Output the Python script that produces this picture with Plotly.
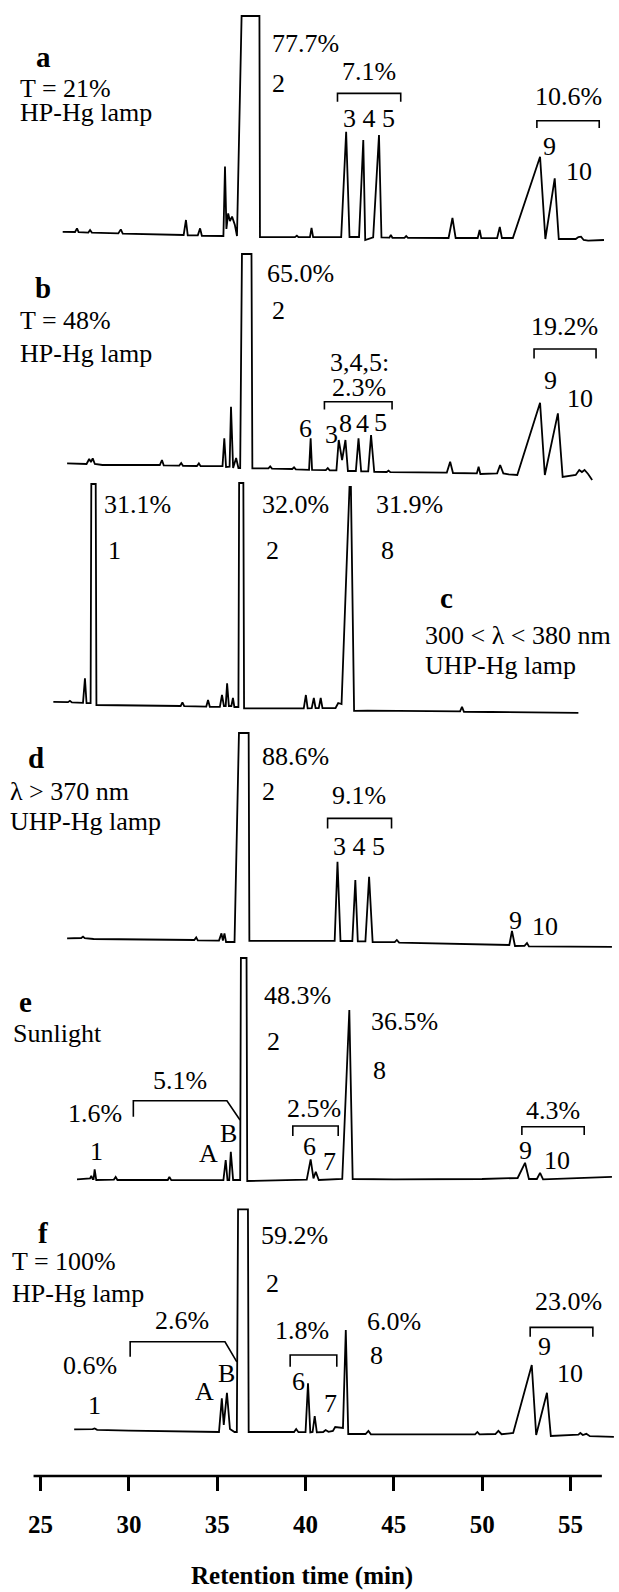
import plotly.graph_objects as go

W, H = 619, 1592
FONT = "'Liberation Serif', 'Times New Roman', Times, serif"

# ---------------- data ----------------
x_ticks = [25, 30, 35, 40, 45, 50, 55]
x_range = [22.70, 57.75]

# panel a : T = 21%, HP-Hg lamp
a_t = [26.25, 26.95, 27.06, 27.15, 27.70, 27.80, 27.90, 29.40, 29.54, 29.65, 33.10, 33.23, 33.33,
       33.90, 34.03, 34.13, 35.35, 35.44, 35.52, 35.62, 35.72, 35.84, 36.00, 36.12,
       36.38, 37.39, 37.42, 38.20, 39.40, 39.51, 39.60, 40.25, 40.34, 40.43,
       42.02, 42.30, 42.49, 43.03, 43.27, 43.38, 43.83, 44.16, 44.30,
       44.75, 44.83, 44.92, 45.60, 45.70, 45.80, 48.10, 48.32, 48.50,
       49.75, 49.86, 49.95, 50.85, 51.00, 51.12, 51.74, 53.28, 53.58, 54.11, 54.34,
       55.30, 55.45, 55.60, 55.75, 56.00, 56.90]
a_i = [6.6, 6.5, 8.3, 6.4, 6.2, 7.5, 6.2, 5.8, 7.8, 5.7, 5.0, 12.5, 4.8,
       4.8, 8.3, 4.6, 4.5, 39.2, 8.0, 15.8, 12.0, 14.2, 10.0, 4.5,
       114.5, 114.5, 3.9, 3.9, 3.9, 4.7, 3.9, 3.9, 8.5, 3.9,
       4.0, 56.6, 4.0, 4.0, 52.5, 2.5, 3.8, 55.0, 3.8,
       3.7, 5.0, 3.6, 3.6, 4.5, 3.6, 3.5, 13.5, 3.5,
       3.5, 7.5, 3.4, 3.5, 9.0, 3.5, 3.5, 44.1, 3.0, 33.3, 3.0,
       3.0, 4.0, 4.2, 2.5, 2.2, 2.5]

# panel b : T = 48%, HP-Hg lamp
b_t = [26.50, 27.60, 27.75, 27.85, 27.95, 28.07, 28.50, 31.75, 31.87, 31.97, 32.85, 32.96, 33.06,
       33.85, 33.96, 34.06, 35.30, 35.40, 35.50, 35.70, 35.78, 35.90, 36.07, 36.20,
       36.30, 36.40, 36.94, 36.99, 37.90, 38.00, 38.10, 39.25, 39.35, 39.45,
       40.20, 40.29, 40.37, 41.15, 41.26, 41.37, 41.75, 41.88, 42.07, 42.26, 42.40,
       42.85, 43.00, 43.15, 43.55, 43.71, 43.89, 44.60, 44.70, 44.80,
       48.00, 48.19, 48.35, 49.70, 49.80, 49.90, 50.85, 51.02, 51.20, 51.50,
       51.99, 53.28, 53.55, 54.29, 54.56, 55.30, 55.50, 55.65, 55.80, 56.00, 56.23]
b_i = [10.8, 10.5, 13.0, 11.5, 13.3, 10.5, 10.0, 10.0, 12.5, 9.8, 9.7, 11.0, 9.6,
       9.5, 10.8, 9.4, 9.5, 23.3, 9.0, 9.2, 39.1, 8.5, 13.5, 8.5,
       8.5, 115.5, 115.5, 8.3, 8.3, 9.3, 8.2, 8.0, 8.8, 7.8,
       7.6, 23.3, 7.6, 7.4, 8.4, 7.3, 7.3, 22.5, 12.5, 22.5, 7.0,
       7.0, 23.3, 6.8, 6.8, 25.0, 6.6, 6.5, 7.2, 6.4,
       6.2, 11.6, 6.0, 5.8, 9.1, 5.5, 5.8, 10.0, 5.8, 5.3,
       5.0, 41.1, 5.0, 35.8, 4.0, 5.0, 7.5, 6.5, 7.5, 5.5, 2.5]

# panel c : 300 < lambda < 380 nm, UHP-Hg lamp
c_t = [25.72, 26.55, 26.66, 26.77, 27.40, 27.51, 27.60, 27.83, 27.87, 28.12, 28.16,
       32.93, 33.03, 33.13, 34.38, 34.48, 34.58, 35.15, 35.27, 35.38, 35.48, 35.56, 35.66,
       35.80, 35.89, 35.97, 36.20, 36.24, 36.48, 36.52, 37.50, 39.90, 40.02, 40.12,
       40.35, 40.47, 40.57, 40.75, 40.86, 40.96, 41.70, 41.85, 42.04, 42.49, 42.57, 42.75,
       43.50, 45.00, 48.75, 48.86, 48.97, 50.50, 55.45]
c_i = [9.1, 8.9, 9.6, 8.8, 8.6, 20.8, 8.4, 8.4, 118.0, 118.0, 7.5,
       7.0, 8.8, 6.9, 6.7, 10.0, 6.6, 6.6, 12.5, 7.0, 7.0, 18.3, 7.0,
       7.0, 11.0, 6.5, 6.5, 118.5, 118.5, 5.8, 5.8, 5.8, 12.5, 5.8,
       5.9, 11.0, 5.9, 5.9, 11.0, 5.9, 6.0, 8.5, 8.0, 116.5, 116.5, 4.6,
       4.7, 4.6, 4.3, 6.6, 4.1, 4.0, 3.6]

# panel d : lambda > 370 nm, UHP-Hg lamp
d_t = [26.50, 27.30, 27.40, 27.50, 28.00, 33.70, 33.81, 33.90, 35.10, 35.24, 35.32, 35.41, 35.50,
       35.98, 36.23, 36.78, 36.82, 41.65, 41.81, 41.98, 42.65, 42.82, 42.96,
       43.39, 43.60, 43.80, 45.05, 45.17, 45.30, 51.54, 51.69, 51.86, 52.40, 52.54, 52.65, 57.35]
d_i = [8.3, 8.5, 9.2, 8.4, 8.0, 7.5, 8.8, 7.3, 7.2, 10.8, 7.2, 10.8, 6.5,
       6.5, 111.0, 111.0, 7.1, 7.1, 46.6, 7.0, 7.0, 37.5, 6.8,
       6.8, 39.1, 6.5, 6.4, 7.5, 6.2, 5.0, 12.0, 4.5, 4.6, 6.0, 4.3, 4.1]

# panel e : Sunlight
e_t = [27.06, 27.80, 27.87, 27.95, 28.00, 28.06, 28.15, 29.15, 29.25, 29.35, 32.20, 32.29, 32.40,
       35.35, 35.48, 35.58, 35.68, 35.77, 35.90, 36.30, 36.34, 36.66, 36.70,
       40.07, 40.29, 40.45, 40.58, 40.75, 42.08, 42.48, 42.67,
       45.00, 50.00, 52.01, 52.43, 52.65, 53.10, 53.28, 53.45, 57.35]
e_i = [5.3, 5.8, 7.0, 5.5, 5.5, 10.3, 5.0, 5.2, 6.5, 5.0, 5.0, 6.5, 4.9,
       5.0, 15.0, 5.0, 5.0, 19.1, 5.0, 5.0, 116.0, 116.0, 4.5,
       5.2, 15.3, 5.8, 9.1, 5.0, 5.5, 90.0, 5.5,
       5.3, 5.5, 6.0, 13.6, 5.5, 5.5, 8.6, 5.3, 6.6]

# panel f : T = 100%, HP-Hg lamp
f_t = [26.90, 27.95, 28.06, 28.20, 30.00, 33.00, 35.10, 35.26, 35.37, 35.55, 35.72, 35.98,
       36.11, 36.18, 36.74, 36.78, 38.00, 39.35, 39.47, 39.60, 40.00, 40.14, 40.27, 40.40, 40.52, 40.64,
       41.00, 41.14, 41.30, 41.55, 41.68, 41.95, 42.12, 42.28, 42.42, 43.40, 43.56, 43.70,
       49.60, 49.73, 49.85, 50.75, 50.92, 51.10, 51.76, 52.81, 53.06, 53.67, 53.89,
       55.45, 55.56, 55.70, 55.90, 56.10, 57.46]
f_i = [7.8, 7.9, 8.3, 7.6, 7.2, 6.8, 6.5, 23.3, 10.0, 26.1, 8.0, 6.5,
       6.5, 117.8, 117.8, 6.5, 6.5, 6.5, 8.0, 6.4, 6.5, 30.8, 6.3, 6.5, 14.5, 6.3,
       6.5, 7.5, 6.6, 7.0, 9.0, 8.5, 8.5, 57.5, 5.5, 5.5, 7.0, 5.3,
       5.3, 6.5, 5.3, 5.5, 7.1, 5.4, 6.0, 40.0, 5.0, 26.1, 4.5,
       5.2, 6.0, 5.0, 5.6, 4.4, 4.1]

series = [(a_t, a_i), (b_t, b_i), (c_t, c_i), (d_t, d_i), (e_t, e_i), (f_t, f_i)]

# ---------------- layout geometry (pixel of zero line, pixel of top) ----------------
panel_px = [(245, 5), (485, 245), (720, 470), (955, 725), (1190, 950), (1445, 1200)]

fig = go.Figure()
for k, (t, i) in enumerate(series):
    fig.add_trace(go.Scatter(x=t, y=i, mode="lines", xaxis="x",
                             yaxis="y" if k == 0 else f"y{k+1}",
                             line=dict(color="black", width=1.8), hoverinfo="skip",
                             showlegend=False, cliponaxis=False))

layout = dict(width=W, height=H, margin=dict(l=0, r=0, t=0, b=0),
              paper_bgcolor="white", plot_bgcolor="rgba(0,0,0,0)", showlegend=False,
              font=dict(family=FONT, color="black", size=26))

AXIS_Y = 1476
layout["xaxis"] = dict(range=x_range, domain=[0, 1], anchor="free", position=(H - AXIS_Y) / H,
                       showgrid=False, zeroline=False, showline=False,
                       tickvals=x_ticks, ticktext=[str(v) for v in x_ticks],
                       ticks="outside", ticklen=14, tickwidth=2.5, tickcolor="black",
                       ticklabelstandoff=12,
                       tickfont=dict(family=FONT, size=25, color="black", weight="bold"))
for k, (y0, ytop) in enumerate(panel_px):
    name = "yaxis" if k == 0 else f"yaxis{k+1}"
    layout[name] = dict(domain=[(H - y0) / H, (H - ytop) / H], range=[0, (y0 - ytop) / 2],
                        visible=False, anchor="x", fixedrange=True)

yrefs = ["y", "y2", "y3", "y4", "y5", "y6"]

# text labels: (panel, t, value, text, xanchor, style)
labels = [
    (0, 25.15, 94, "a", "center", "letter"), (0, 23.70, 78.5, "T = 21%", "left", ""),
    (0, 23.70, 66.5, "HP-Hg lamp", "left", ""), (0, 38.01, 101, "77.7%", "left", ""),
    (0, 38.01, 81, "2", "left", ""), (0, 43.60, 86.6, "7.1%", "center", ""),
    (0, 43.60, 63.3, "3 4 5", "center", ""), (0, 54.89, 74.1, "10.6%", "center", ""),
    (0, 53.84, 49.1, "9", "center", ""), (0, 55.49, 36.6, "10", "center", ""),

    (1, 25.15, 98.3, "b", "center", "letter"), (1, 23.70, 82.5, "T = 48%", "left", ""),
    (1, 23.70, 65.8, "HP-Hg lamp", "left", ""), (1, 37.72, 105.8, "65.0%", "left", ""),
    (1, 38.01, 87.5, "2", "left", ""), (1, 43.04, 61.3, "3,4,5:", "center", ""),
    (1, 43.04, 48.8, "2.3%", "center", ""), (1, 39.98, 28.3, "6", "center", ""),
    (1, 41.47, 25.5, "3", "center", ""), (1, 42.26, 31, "8", "center", ""),
    (1, 43.22, 31, "4", "center", ""), (1, 44.22, 31.1, "5", "center", ""),
    (1, 54.67, 79.1, "19.2%", "center", ""), (1, 53.88, 52.5, "9", "center", ""),
    (1, 55.56, 43.3, "10", "center", ""),

    (2, 28.46, 107.5, "31.1%", "left", ""), (2, 28.73, 85, "1", "left", ""),
    (2, 37.45, 107.5, "32.0%", "left", ""), (2, 37.67, 85, "2", "left", ""),
    (2, 43.89, 107.5, "31.9%", "left", ""), (2, 44.16, 85, "8", "left", ""),
    (2, 47.96, 60.8, "c", "center", "letter"), (2, 46.66, 42.5, "300 < λ < 380 nm", "left", ""),
    (2, 46.66, 27.5, "UHP-Hg lamp", "left", ""),

    (3, 24.71, 98.3, "d", "center", "letter"), (3, 23.14, 81.6, "λ > 370 nm", "left", ""),
    (3, 23.14, 66.6, "UHP-Hg lamp", "left", ""), (3, 37.45, 99.5, "88.6%", "left", ""),
    (3, 37.41, 81.6, "2", "left", ""), (3, 43.04, 80, "9.1%", "center", ""),
    (3, 43.04, 54.1, "3 4 5", "center", ""), (3, 51.87, 17.5, "9", "center", ""),
    (3, 53.55, 14.1, "10", "center", ""),

    (4, 24.15, 94.1, "e", "center", "letter"), (4, 23.32, 78.3, "Sunlight", "left", ""),
    (4, 37.56, 97.5, "48.3%", "left", ""), (4, 37.72, 74.1, "2", "left", ""),
    (4, 43.60, 84.1, "36.5%", "left", ""), (4, 43.71, 60, "8", "left", ""),
    (4, 32.87, 55, "5.1%", "center", ""), (4, 28.06, 38.3, "1.6%", "center", ""),
    (4, 35.66, 28.3, "B", "center", ""), (4, 34.50, 18.3, "A", "center", ""),
    (4, 28.17, 19.1, "1", "center", ""), (4, 40.47, 40.8, "2.5%", "center", ""),
    (4, 40.25, 21.6, "6", "center", ""), (4, 41.36, 14.1, "7", "center", ""),
    (4, 53.99, 40, "4.3%", "center", ""), (4, 52.43, 20, "9", "center", ""),
    (4, 54.22, 15, "10", "center", ""),

    (5, 25.15, 105.8, "f", "center", "letter"), (5, 23.25, 91.6, "T = 100%", "left", ""),
    (5, 23.25, 75.8, "HP-Hg lamp", "left", ""), (5, 37.34, 105, "59.2%", "left", ""),
    (5, 37.63, 80.8, "2", "left", ""), (5, 33.02, 62.5, "2.6%", "center", ""),
    (5, 27.79, 40, "0.6%", "center", ""), (5, 28.06, 20, "1", "center", ""),
    (5, 34.28, 26.6, "A", "center", ""), (5, 35.55, 35.8, "B", "center", ""),
    (5, 39.80, 57.5, "1.8%", "center", ""), (5, 39.62, 31.6, "6", "center", ""),
    (5, 41.43, 20.8, "7", "center", ""), (5, 43.38, 61.6, "6.0%", "left", ""),
    (5, 43.53, 45, "8", "left", ""), (5, 54.89, 71.6, "23.0%", "center", ""),
    (5, 53.55, 49.1, "9", "center", ""), (5, 55.00, 35.8, "10", "center", ""),
]

annotations = []
for p, t, v, txt, xa, style in labels:
    if style == "letter":
        f = dict(family=FONT, size=29, color="black", weight="bold")
    else:
        f = dict(family=FONT, size=26, color="black")
    annotations.append(dict(x=t, y=v, xref="x", yref=yrefs[p], text=txt, showarrow=False,
                            xanchor=xa, yanchor="middle", font=f))

annotations.append(dict(x=302 / W, y=(H - 1576) / H, xref="paper", yref="paper",
                        text="Retention time (min)", showarrow=False, xanchor="center",
                        yanchor="middle", font=dict(family=FONT, size=25, weight="bold")))
layout["annotations"] = annotations

# brackets: (panel, list of (t, value))
brackets = [
    (0, [(41.81, 71.6), (41.81, 75.8), (45.39, 75.8), (45.39, 71.6)]),
    (0, [(53.10, 58.5), (53.10, 62.1), (56.63, 62.1), (56.63, 58.5)]),
    (1, [(41.07, 37.8), (41.07, 41.6), (44.90, 41.6), (44.90, 37.8)]),
    (1, [(52.94, 63.3), (52.94, 68.0), (56.45, 68.0), (56.45, 63.3)]),
    (3, [(41.25, 63.3), (41.25, 68.3), (44.87, 68.3), (44.87, 63.3)]),
    (4, [(30.25, 36.6), (30.25, 44.6), (35.55, 44.6), (36.29, 35.0)]),
    (4, [(39.28, 27.0), (39.28, 32.0), (41.85, 32.0), (41.85, 27.0)]),
    (4, [(52.25, 27.5), (52.25, 31.6), (55.78, 31.6), (55.78, 27.5)]),
    (5, [(30.07, 44.1), (30.07, 51.6), (35.44, 51.6), (36.11, 41.6)]),
    (5, [(39.13, 39.1), (39.13, 45.0), (41.77, 45.0), (41.77, 39.1)]),
    (5, [(52.72, 54.1), (52.72, 58.8), (56.27, 58.8), (56.27, 54.1)]),
]
shapes = []
for p, pts in brackets:
    path = "M " + " L ".join(f"{t},{v}" for t, v in pts)
    shapes.append(dict(type="path", path=path, xref="x", yref=yrefs[p],
                       line=dict(color="black", width=1.6)))
# axis baseline
shapes.append(dict(type="line", x0=24.60, x1=56.78, y0=(H - AXIS_Y) / H, y1=(H - AXIS_Y) / H,
                   xref="x", yref="paper", line=dict(color="black", width=2.5)))
layout["shapes"] = shapes

fig.update_layout(**layout)
fig.write_html("out.html", config=dict(displayModeBar=False))
